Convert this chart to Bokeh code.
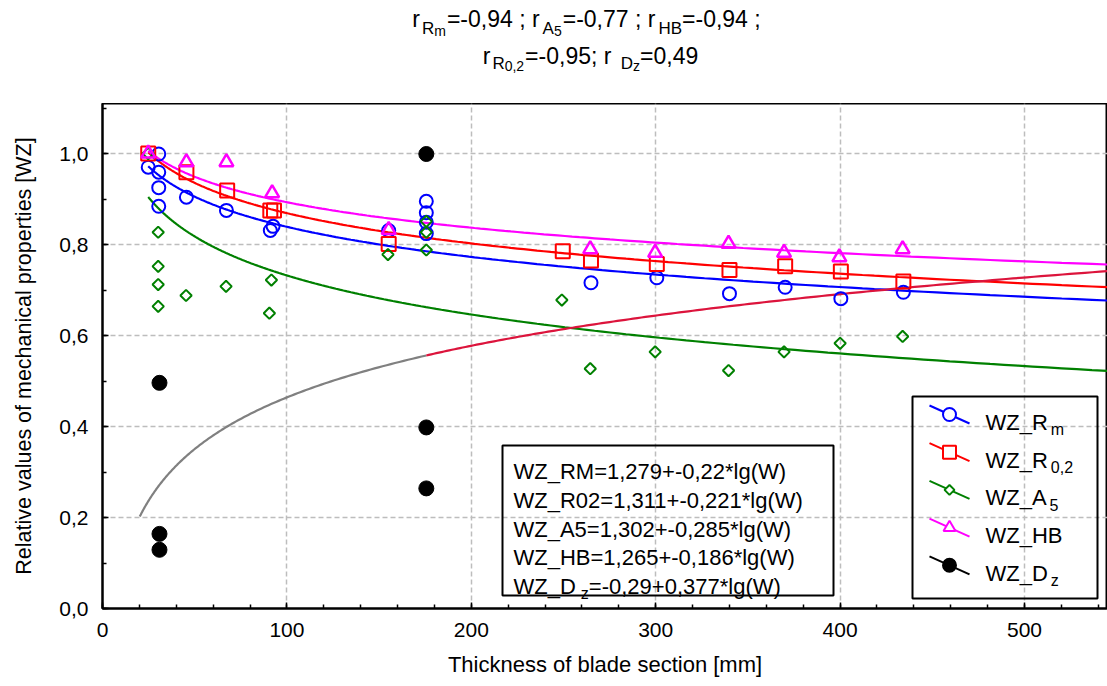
import numpy as np
from bokeh.plotting import figure
from bokeh.layouts import column
from bokeh.models import (Range1d, CustomJSTickFormatter, Label,
                          SingleIntervalTicker)
from bokeh.embed import file_html
from bokeh.resources import INLINE

FONT = "Liberation Sans"

# ---------------- data ----------------
rm_x = [24.8, 30.5, 30.5, 30.5, 30.5, 45.5, 67.2, 91.0, 92.5, 155.2,
        175.6, 175.6, 175.6, 175.6, 264.9, 300.6, 340.0, 370.2, 400.4, 434.3]
rm_y = [0.970, 0.999, 0.959, 0.925, 0.884, 0.904, 0.875, 0.831, 0.840, 0.831,
        0.895, 0.870, 0.849, 0.824, 0.716, 0.727, 0.692, 0.706, 0.681, 0.695]

r02_x = [24.8, 45.5, 67.6, 91.0, 93.0, 155.2, 249.6, 264.9, 300.6, 340.0,
         370.2, 400.4, 434.3]
r02_y = [1.000, 0.959, 0.919, 0.875, 0.875, 0.801, 0.785, 0.765, 0.757, 0.744,
         0.752, 0.741, 0.719]

a5_x = [24.8, 30.2, 30.2, 30.2, 30.2, 45.3, 67.0, 91.6, 90.5, 154.8,
        175.6, 175.6, 175.6, 249.1, 264.5, 299.7, 339.5, 369.6, 400.0, 433.9]
a5_y = [1.000, 0.827, 0.752, 0.712, 0.664, 0.688, 0.708, 0.722, 0.649, 0.778,
        0.851, 0.827, 0.788, 0.678, 0.527, 0.564, 0.523, 0.564, 0.583, 0.598]

hb_x = [24.8, 45.5, 67.2, 92.0, 155.2, 264.5, 299.7, 339.5, 369.6, 399.6, 433.9]
hb_y = [1.000, 0.981, 0.981, 0.913, 0.832, 0.790, 0.782, 0.802, 0.782, 0.772, 0.790]

dz_x = [30.9, 30.9, 30.9, 175.6, 175.6, 175.6]
dz_y = [0.496, 0.164, 0.129, 0.999, 0.398, 0.264]

# regression y = a + b*lg(W), as printed on the chart
fit_names = ["RM", "R02", "A5", "HB", "Dz"]
fit_a = [1.279, 1.311, 1.302, 1.265, -0.29]
fit_b = [-0.22, -0.221, -0.285, -0.186, 0.377]
fit_start = [24.8, 24.8, 24.8, 24.8, 20.2]

X_MAX = 545
Y_MAX = 1.11

# ---------------- rich text helper (subscripts) ----------------
AW = {' ': 278, ',': 278, '-': 333, '.': 278, ';': 278, '=': 584, '+': 584,
      '*': 389, '(': 333, ')': 333, '_': 556, '[': 278, ']': 278,
      'A': 667, 'B': 667, 'D': 722, 'H': 722, 'M': 833, 'R': 722, 'W': 944,
      'Z': 611, 'g': 556, 'l': 222, 'm': 833, 'r': 333, 'z': 500, 'o': 556}


def tw(s, size):
    return sum(AW.get(c, 556) for c in s) * size / 1000.0


def rich(fig, parts, x, y_base, center=False, rn=None):
    total = sum(tw(t, s) + g for t, s, dy, g in parts)
    if center:
        x -= total / 2.0
    kw = {}
    if rn:
        kw = dict(x_range_name=rn, y_range_name=rn)
    for t, s, dy, g in parts:
        x += g
        fig.add_layout(Label(x=x, y=y_base + dy, text=t, text_font=FONT,
                             text_font_size=f"{s}px", text_color="black",
                             text_align="left", text_baseline="alphabetic",
                             **kw))
        x += tw(t, s)


# ---------------- title figure (page-pixel coordinates) ----------------
tp = figure(frame_width=1005, frame_height=103,
            min_border_left=102, min_border_right=0,
            min_border_top=0, min_border_bottom=0,
            x_range=Range1d(102, 1107), y_range=Range1d(103, 0),
            output_backend="svg", toolbar_location=None,
            outline_line_color=None, title=None,
            x_axis_location=None, y_axis_location=None,
            background_fill_color="white", border_fill_color="white")
tp.grid.visible = False
rich(tp, [("r", 23, 0, 0), ("R", 17, 10, 2), ("m", 14, 12, 0),
          ("=-0,94 ; r", 23, 0, 1), ("A", 17, 10, 3), ("5", 14, 12, 0),
          ("=-0,77 ; r", 23, 0, 1), ("HB", 17, 10, 3), ("=-0,94 ;", 23, 0, 0)],
     586, 18, center=True)
rich(tp, [("r", 23, 0, 0), ("R", 17, 8, 2), ("0,2", 14, 10, 0),
          (" =-0,95; r", 23, 0, 1), ("D", 17, 8, 3), ("z", 14, 10, 0),
          ("=0,49", 23, 0, 0)],
     590, 55, center=True)

# ---------------- main figure ----------------
p = figure(frame_width=1005, frame_height=505,
           min_border_left=102, min_border_right=0,
           min_border_top=0, min_border_bottom=78,
           x_range=Range1d(0, X_MAX), y_range=Range1d(0, Y_MAX),
           output_backend="svg", toolbar_location=None, title=None,
           background_fill_color="white", border_fill_color="white")
# pixel-space ranges for decorations (page pixel coordinates of the frame)
p.extra_x_ranges = {"px": Range1d(102, 1107)}
p.extra_y_ranges = {"px": Range1d(608, 103)}

p.outline_line_color = "black"
p.outline_line_width = 2

p.xaxis.ticker = SingleIntervalTicker(interval=100, num_minor_ticks=5)
p.yaxis.ticker = SingleIntervalTicker(interval=0.2, num_minor_ticks=2)
p.yaxis.formatter = CustomJSTickFormatter(
    code="return tick.toFixed(1).replace('.', ',');")

for ax in (p.xaxis[0], p.yaxis[0]):
    ax.axis_line_color = "black"
    ax.axis_line_width = 2
    ax.major_tick_in = 6
    ax.major_tick_out = 0
    ax.minor_tick_in = 4
    ax.minor_tick_out = 0
    ax.major_tick_line_width = 1.5
    ax.minor_tick_line_width = 1.5
    ax.major_tick_line_color = "black"
    ax.minor_tick_line_color = "black"
    ax.major_label_text_font = FONT
    ax.major_label_text_font_size = "21px"
    ax.major_label_text_color = "black"
    ax.axis_label_text_font = FONT
    ax.axis_label_text_font_style = "normal"
    ax.axis_label_text_color = "black"

p.xaxis.axis_label = "Thickness of blade section [mm]"
p.xaxis.axis_label_text_font_size = "22px"
p.xaxis.major_label_standoff = 14
p.xaxis.axis_label_standoff = 12
p.yaxis.axis_label = "Relative values of mechanical properties [WZ]"
p.yaxis.axis_label_text_font_size = "21.5px"
p.yaxis.major_label_standoff = 14
p.yaxis.axis_label_standoff = 20

p.grid.grid_line_color = "#bdbdbd"
p.grid.grid_line_dash = "5 3"
p.grid.grid_line_width = 1.5

# ---------------- fit curves ----------------
fit_colors = ["#0000ff", "#ff0000", "#008000", "#ff00ff", "#808080"]
for i in range(4):
    xs = np.geomspace(fit_start[i], X_MAX, 200)
    p.line(xs, fit_a[i] + fit_b[i] * np.log10(xs), line_color=fit_colors[i],
           line_width=2.2)
# Dz: within data range grey, extrapolated part crimson
xs_in = np.geomspace(fit_start[4], max(dz_x), 150)
p.line(xs_in, fit_a[4] + fit_b[4] * np.log10(xs_in), line_color="#808080",
       line_width=2.2)
xs_out = np.geomspace(max(dz_x), X_MAX, 150)
p.line(xs_out, fit_a[4] + fit_b[4] * np.log10(xs_out), line_color="#dc143c",
       line_width=2.2)

# ---------------- points ----------------
p.scatter(rm_x, rm_y, marker="circle", size=13, line_color="#0000ff",
          fill_alpha=0, line_width=2)
p.scatter(r02_x, r02_y, marker="square", size=14, line_color="#ff0000",
          fill_alpha=0, line_width=2)
p.scatter(a5_x, a5_y, marker="square", angle=np.pi / 4, size=8,
          line_color="#008000", fill_alpha=0, line_width=2)
p.scatter(hb_x, hb_y, marker="triangle", size=14, line_color="#ff00ff",
          fill_alpha=0, line_width=2.5)
p.scatter(dz_x, dz_y, marker="circle", size=15, line_color="black",
          fill_color="black")

# ---------------- equation box ----------------
p.quad(left=[502], right=[833], top=[445], bottom=[595], x_range_name="px",
       y_range_name="px", fill_alpha=0, line_color="black", line_width=2)
eq_lines = [
    [("WZ_RM=1,279+-0,22*lg(W)", 22, 0, 0)],
    [("WZ_R02=1,311+-0,221*lg(W)", 22, 0, 0)],
    [("WZ_A5=1,302+-0,285*lg(W)", 22, 0, 0)],
    [("WZ_HB=1,265+-0,186*lg(W)", 22, 0, 0)],
    [("WZ_D", 22, 0, 0), ("z", 16, 7, 5), ("=-0,29+0,377*lg(W)", 22, 0, 0)],
]
for i, parts in enumerate(eq_lines):
    rich(p, parts, 513, 471 + i * 28.8, rn="px")

# ---------------- legend ----------------
p.quad(left=[912], right=[1097], top=[396], bottom=[598], x_range_name="px",
       y_range_name="px", fill_alpha=0, line_color="black", line_width=2)
leg_y = [414 + i * 37.7 for i in range(5)]
leg_colors = ["#0000ff", "#ff0000", "#008000", "#ff00ff", "black"]
leg_markers = ["circle", "square", "square", "triangle", "circle"]
leg_angles = [0, 0, np.pi / 4, 0, 0]
leg_sizes = [13, 13, 7, 12, 13]
leg_fill = [0.0, 0.0, 0.0, 0.0, 1.0]
leg_main = ["WZ_R", "WZ_R", "WZ_A", "WZ_HB", "WZ_D"]
leg_sub = ["m", "0,2", "5", "", "z"]
mx = 949
for i in range(5):
    y = leg_y[i]
    p.segment(x0=[mx - 20], y0=[y - 9], x1=[mx + 20], y1=[y + 9],
              x_range_name="px", y_range_name="px",
              line_color=leg_colors[i], line_width=2)
    p.scatter([mx], [y], x_range_name="px", y_range_name="px",
              marker=leg_markers[i], angle=leg_angles[i], size=leg_sizes[i],
              line_color=leg_colors[i],
              fill_color=leg_colors[i] if leg_fill[i] else "white",
              line_width=2)
    parts = [(leg_main[i], 22, 0, 0)]
    if leg_sub[i]:
        parts.append((leg_sub[i], 16, 7, 3))
    rich(p, parts, 985, y + 8, rn="px")

layout = column(tp, p, spacing=0)
open("out.html", "w").write(file_html(layout, INLINE))
